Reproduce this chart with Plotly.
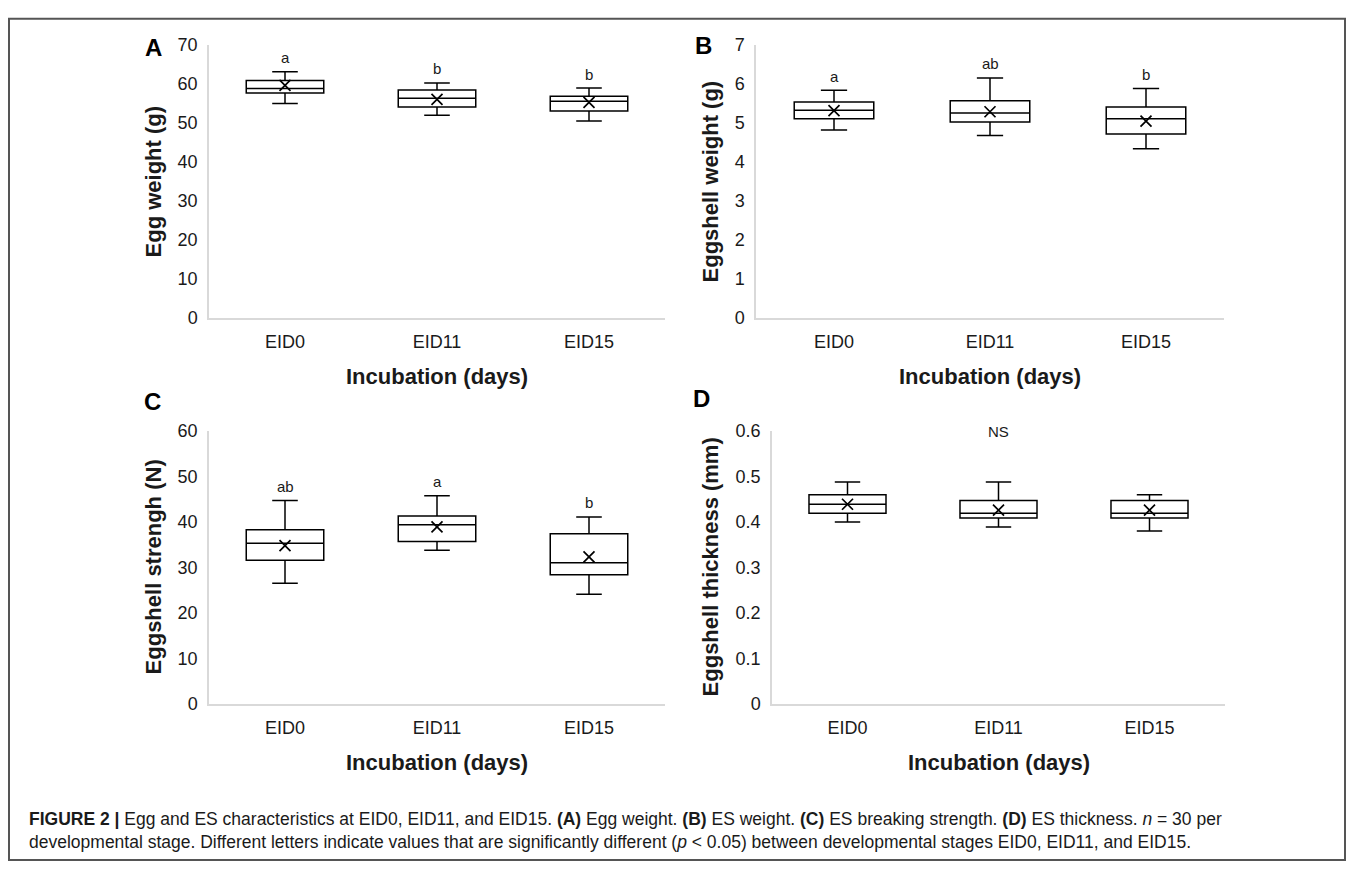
import plotly.graph_objects as go

W, H = 1355, 872

categories = ["EID0", "EID11", "EID15"]

# Panel A: Egg weight (g)
a_lo = [55.0, 52.0, 50.5]
a_q1 = [57.7, 54.1, 53.1]
a_med = [58.9, 56.4, 55.6]
a_q3 = [60.9, 58.5, 56.9]
a_hi = [63.2, 60.3, 59.0]
a_mean = [59.7, 56.1, 55.3]
a_letters = ["a", "b", "b"]

# Panel B: Eggshell weight (g)
b_lo = [4.82, 4.68, 4.34]
b_q1 = [5.11, 5.03, 4.72]
b_med = [5.33, 5.26, 5.11]
b_q3 = [5.54, 5.57, 5.41]
b_hi = [5.84, 6.16, 5.89]
b_mean = [5.32, 5.29, 5.05]
b_letters = ["a", "ab", "b"]

# Panel C: Eggshell strength (N)
c_lo = [26.5, 33.8, 24.1]
c_q1 = [31.6, 35.7, 28.4]
c_med = [35.3, 39.4, 31.0]
c_q3 = [38.3, 41.3, 37.4]
c_hi = [44.7, 45.8, 41.1]
c_mean = [34.8, 38.9, 32.3]
c_letters = ["ab", "a", "b"]

# Panel D: Eggshell thickness (mm)
d_lo = [0.400, 0.389, 0.380]
d_q1 = [0.419, 0.409, 0.409]
d_med = [0.439, 0.419, 0.419]
d_q3 = [0.460, 0.447, 0.447]
d_hi = [0.488, 0.488, 0.460]
d_mean = [0.439, 0.426, 0.426]

FONT = "Liberation Sans, Arial, sans-serif"
TXT = "#1a1a1a"

def px_x(p):
    return p / W

def px_y(p):
    return 1 - p / H

panels = [
    dict(n="", x=(209, 665), y=(36, 315), rng=[0, 70], dtick=10,
         d=(a_lo, a_q1, a_med, a_q3, a_hi, a_mean), letters=a_letters,
         ytitle="Egg weight (g)", label="A", lab=(153, 38), ytx=153),
    dict(n="2", x=(756, 1224), y=(36, 315), rng=[0, 7], dtick=1,
         d=(b_lo, b_q1, b_med, b_q3, b_hi, b_mean), letters=b_letters,
         ytitle="Eggshell weight (g)", label="B", lab=(703, 36), ytx=710),
    dict(n="3", x=(209, 665), y=(431, 710), rng=[0, 60], dtick=10,
         d=(c_lo, c_q1, c_med, c_q3, c_hi, c_mean), letters=c_letters,
         ytitle="Eggshell strengh (N)", label="C", lab=(152, 401), ytx=153),
    dict(n="4", x=(772, 1225), y=(431, 710), rng=[0, 0.6], dtick=0.1,
         d=(d_lo, d_q1, d_med, d_q3, d_hi, d_mean), letters=None,
         ytitle="Eggshell thickness (mm)", label="D", lab=(701, 398), ytx=710),
]

fig = go.Figure()
annotations = []
layout_axes = {}

for p in panels:
    n = p["n"]
    xa, ya = "x" + n, "y" + n
    lo, q1, med, q3, hi, mean = p["d"]
    fig.add_trace(go.Box(
        x=categories, lowerfence=lo, q1=q1, median=med, q3=q3, upperfence=hi,
        boxpoints=False, fillcolor="white",
        line=dict(color="black", width=1.5),
        whiskerwidth=0.33, width=0.51,
        xaxis=xa, yaxis=ya, showlegend=False, hoverinfo="skip",
    ))
    fig.add_trace(go.Scatter(
        x=categories, y=mean, mode="markers",
        marker=dict(symbol="x-thin", size=11, color="black",
                    line=dict(width=1.7, color="black")),
        xaxis=xa, yaxis=ya, showlegend=False, hoverinfo="skip",
    ))
    layout_axes["xaxis" + n] = dict(
        domain=[px_x(p["x"][0]), px_x(p["x"][1])], anchor=ya,
        type="category", range=[-0.5, 2.5],
        showline=True, linecolor="#d9d9d9", linewidth=1.5,
        ticks="", showgrid=False, zeroline=False,
        tickfont=dict(family=FONT, size=18, color=TXT),
        ticklabelstandoff=7,
    )
    layout_axes["yaxis" + n] = dict(
        domain=[px_y(p["y"][1]), px_y(p["y"][0])], anchor=xa,
        range=p["rng"], dtick=p["dtick"], tick0=0,
        showline=True, linecolor="#d9d9d9", linewidth=1.5,
        ticks="", showgrid=False, zeroline=False,
        tickfont=dict(family=FONT, size=18, color=TXT),
        ticklabelstandoff=6,
    )
    if p["letters"]:
        for cat, h, let in zip(categories, hi, p["letters"]):
            annotations.append(dict(
                x=cat, y=h, xref=xa, yref=ya, text=let, showarrow=False,
                yanchor="middle", yshift=14,
                font=dict(family=FONT, size=15, color=TXT)))
    else:
        annotations.append(dict(
            x=categories[1], y=p["rng"][1], xref=xa, yref=ya, text="NS",
            showarrow=False, yanchor="middle",
            font=dict(family=FONT, size=15, color=TXT)))
    annotations.append(dict(
        x=px_x((p["x"][0] + p["x"][1]) / 2), y=px_y(p["y"][1] + 60),
        xref="paper", yref="paper", text="<b>Incubation (days)</b>",
        showarrow=False, xanchor="center", yanchor="middle",
        font=dict(family=FONT, size=22, color=TXT)))
    annotations.append(dict(
        x=px_x(p["ytx"]), y=px_y((p["y"][0] + p["y"][1]) / 2),
        xref="paper", yref="paper", text="<b>" + p["ytitle"] + "</b>",
        textangle=-90, showarrow=False, xanchor="center", yanchor="middle",
        font=dict(family=FONT, size=22, color=TXT)))
    annotations.append(dict(
        x=px_x(p["lab"][0]), y=px_y(p["lab"][1]),
        xref="paper", yref="paper", text="<b>" + p["label"] + "</b>",
        showarrow=False, xanchor="center", yanchor="middle",
        font=dict(family=FONT, size=24, color="black")))

caption = ("<b>FIGURE 2 |</b> Egg and ES characteristics at EID0, EID11, and EID15. "
           "<b>(A)</b> Egg weight. <b>(B)</b> ES weight. <b>(C)</b> ES breaking strength. "
           "<b>(D)</b> ES thickness. <i>n</i> = 30 per<br>"
           "developmental stage. Different letters indicate values that are significantly "
           "different (<i>p</i> &lt; 0.05) between developmental stages EID0, EID11, and EID15.")
annotations.append(dict(
    x=px_x(27), y=px_y(840), xref="paper", yref="paper", text=caption,
    showarrow=False, xanchor="left", yanchor="middle", align="left",
    font=dict(family=FONT, size=17.5, color=TXT)))

fig.update_layout(
    width=W, height=H, autosize=False,
    margin=dict(l=0, r=0, t=0, b=0),
    paper_bgcolor="white", plot_bgcolor="white",
    annotations=annotations,
    shapes=[dict(type="rect", xref="paper", yref="paper",
                 x0=px_x(9), x1=px_x(1345), y0=px_y(870), y1=px_y(9),
                 line=dict(color="#555555", width=2))],
    **layout_axes,
)

fig.write_html(
    "out.html",
    config={"displayModeBar": False},
    post_script="document.body.style.margin='0';document.body.style.overflow='hidden';",
)
